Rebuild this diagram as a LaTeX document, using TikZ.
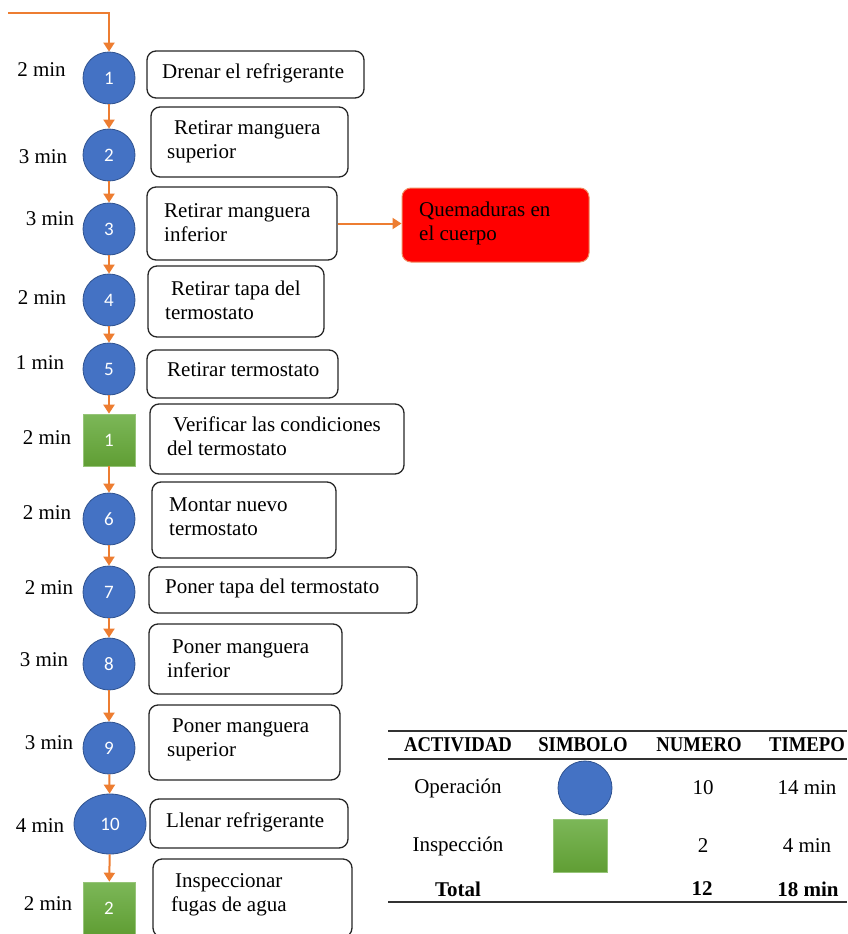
\documentclass[tikz,border=0pt]{standalone}
\usepackage{fontspec}
\setmainfont{Liberation Serif}
\newfontfamily\calib{Carlito}
\usetikzlibrary{arrows.meta,shapes.geometric}
\definecolor{opblue}{HTML}{4472C4}
\definecolor{opedge}{HTML}{2F528F}
\definecolor{arrowor}{HTML}{ED7D31}
\definecolor{gtop}{RGB}{124,183,88}
\definecolor{gbot}{RGB}{96,158,52}
\definecolor{gedge}{RGB}{150,196,120}
\definecolor{redfill}{HTML}{FF0000}
\definecolor{rededge}{HTML}{F08A60}
\definecolor{tblline}{HTML}{333333}
\begin{document}
\begin{tikzpicture}[x=1pt,y=-1pt,
  op/.style={circle, fill=opblue, draw=opedge, line width=0.8pt, minimum size=52pt, inner sep=0pt, text=white, font=\calib\fontsize{19}{19}\selectfont},
  opell/.style={ellipse, fill=opblue, draw=opedge, line width=0.8pt, minimum width=72pt, minimum height=60pt, inner sep=0pt, text=white, font=\calib\fontsize{19}{19}\selectfont},
  insp/.style={rectangle, top color=gtop, bottom color=gbot, draw=gedge, line width=0.6pt, minimum size=52pt, inner sep=0pt, text=white, font=\calib\fontsize{19}{19}\selectfont},
  stepbox/.style={rectangle, draw=black!85, line width=1.3pt, rounded corners=9pt, inner sep=0pt},
  riskbox/.style={rectangle, fill=redfill, draw=rededge, line width=1pt, rounded corners=9pt, inner sep=0pt},
  txt/.style={anchor=west, align=left, inner sep=0pt, font=\fontsize{21}{24}\selectfont},
  tm/.style={inner sep=0pt, font=\fontsize{21}{24}\selectfont},
  hdr/.style={inner sep=0pt, font=\bfseries\fontsize{21}{24}\selectfont},
  arr/.style={draw=arrowor, line width=2pt, -{Triangle[width=11pt,length=9pt]}},
  tline/.style={draw=tblline, line width=1.5pt}
  ]
\useasboundingbox (0,0) rectangle (847,934);

% symbols
\node[op] (c1) at (109,78) {\raisebox{-3pt}{1}};
\node[op] (c2) at (109,155) {\raisebox{-3pt}{2}};
\node[op] (c3) at (109,229) {\raisebox{-3pt}{3}};
\node[op] (c4) at (109,300) {\raisebox{-3pt}{4}};
\node[op] (c5) at (109,369) {\raisebox{-3pt}{5}};
\node[insp] (s1) at (109,440) {\raisebox{-3pt}{1}};
\node[op] (c6) at (109,519) {\raisebox{-3pt}{6}};
\node[op] (c7) at (109,592) {\raisebox{-3pt}{7}};
\node[op] (c8) at (109,664) {\raisebox{-3pt}{8}};
\node[op] (c9) at (109,748) {\raisebox{-3pt}{9}};
\node[opell] (c10) at (110,824) {10};
\node[insp] (s2) at (109,908) {\raisebox{-3pt}{2}};

% connectors
\coordinate (start) at (8,13);
\draw[arr] (start) -| (c1.north);
\draw[arr] (c1) -- (c2);
\draw[arr] (c2) -- (c3);
\draw[arr] (c3) -- (c4);
\draw[arr] (c4) -- (c5);
\draw[arr] (c5) -- (s1);
\draw[arr] (s1) -- (c6);
\draw[arr] (c6) -- (c7);
\draw[arr] (c7) -- (c8);
\draw[arr] (c8) -- (c9);
\draw[arr] (c9) -- (c10);
\draw[arr] (c10) -- (s2);

% times
\node[tm] (m1) at (41.5,70) {2 min};
\node[tm] (m2) at (43,157) {3 min};
\node[tm] (m3) at (50,219) {3 min};
\node[tm] (m4) at (42,298) {2 min};
\node[tm] (m5) at (40,363) {1 min};
\node[tm] (ms1) at (47,438) {2 min};
\node[tm] (m6) at (47,513) {2 min};
\node[tm] (m7) at (49,588) {2 min};
\node[tm] (m8) at (44,660) {3 min};
\node[tm] (m9) at (49,743) {3 min};
\node[tm] (m10) at (40,826) {4 min};
\node[tm] (ms2) at (48,904) {2 min};

% boxes
\node[stepbox, minimum width=217pt, minimum height=47pt] (b1) at (255.5,74.5) {};
\node[stepbox, minimum width=197pt, minimum height=70pt] (b2) at (249.5,142) {};
\node[stepbox, minimum width=190pt, minimum height=73pt] (b3) at (242,223.5) {};
\node[stepbox, minimum width=176pt, minimum height=71pt] (b4) at (236,301.5) {};
\node[stepbox, minimum width=191pt, minimum height=48pt] (b5) at (242.5,374) {};
\node[stepbox, minimum width=254pt, minimum height=70pt] (bs1) at (277,439) {};
\node[stepbox, minimum width=184pt, minimum height=76pt] (b6) at (244,520) {};
\node[stepbox, minimum width=268pt, minimum height=46pt] (b7) at (283,590) {};
\node[stepbox, minimum width=193pt, minimum height=70pt] (b8) at (245.5,659) {};
\node[stepbox, minimum width=191pt, minimum height=75pt] (b9) at (244.5,742.5) {};
\node[stepbox, minimum width=198pt, minimum height=49pt] (b10) at (249,823.5) {};
\node[stepbox, minimum width=199pt, minimum height=78pt] (bs2) at (252.5,898) {};
\node[riskbox, minimum width=187pt, minimum height=74pt] (risk) at (495.5,225) {};

\draw[arr] (b3.east) -- (b3.east -| risk.west);

% box texts
\node[txt] (t1) at (162,73) {Drenar el refrigerante};
\node[txt] (t2) at (167,141.5) {\hspace*{7pt}Retirar manguera\\superior};
\node[txt] (t3) at (164,222.5) {Retirar manguera\\inferior};
\node[txt] (t4) at (165,300) {\hspace*{6pt}Retirar tapa del\\termostato};
\node[txt] (t5) at (167,370) {Retirar termostato};
\node[txt] (ts1) at (167,436.5) {\hspace*{6pt}Verificar las condiciones\\del termostato};
\node[txt] (t6) at (169,517) {Montar nuevo\\termostato};
\node[txt] (t7) at (165,588) {Poner tapa del termostato};
\node[txt] (t8) at (167,659) {\hspace*{5pt}Poner manguera\\inferior};
\node[txt] (t9) at (167,740) {\hspace*{5pt}Poner manguera\\superior};
\node[txt] (t10) at (166,822) {Llenar refrigerante};
\node[txt] (ts2) at (171,895) {\hspace*{4pt}Inspeccionar\\fugas de agua};
\node[txt] (trisk) at (419,223.5) {Quemaduras en\\el cuerpo};

% table
\draw[tline] (388,731) -- (847,731);
\draw[tline] (388,759) -- (847,759);
\draw[tline] (388,902) -- (847,902);
\node[hdr] (hA) at (458,745) {\scalebox{0.89}[1]{ACTIVIDAD}};
\node[hdr] (hS) at (583,745) {\scalebox{0.89}[1]{SIMBOLO}};
\node[hdr] (hN) at (699,745) {\scalebox{0.89}[1]{NUMERO}};
\node[hdr] (hT) at (807,745) {\scalebox{0.89}[1]{TIMEPO}};
\node[tm] (rO) at (458,788) {Operación};
\node[op, minimum size=54pt] (symO) at (585,788) {};
\node[tm] (nO) at (703,788) {10};
\node[tm] (tO) at (807,788) {14 min};
\node[tm] (rI) at (458,846) {Inspección};
\node[insp, minimum width=54pt, minimum height=53pt] (symI) at (580,845.5) {};
\node[tm] (nI) at (703,846) {2};
\node[tm] (tI) at (807,846) {4 min};
\node[hdr] (rT) at (458,889) {Total};
\node[hdr] (nT) at (702,889) {12};
\node[hdr] (tT) at (808,889) {18 min};
\end{tikzpicture}
\end{document}
